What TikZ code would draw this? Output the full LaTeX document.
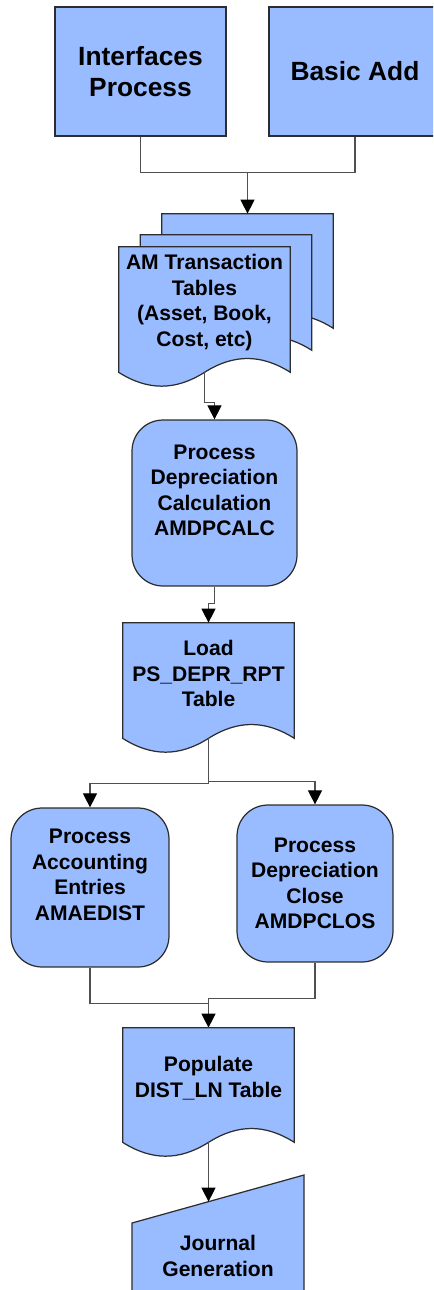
\documentclass[tikz,border=0pt]{standalone}
\usepackage{fontspec}
\setmainfont{Liberation Sans}
\definecolor{BoxBlue}{RGB}{153,187,255}
\definecolor{EdgeGray}{RGB}{45,45,45}
\definecolor{WireGray}{RGB}{80,80,80}
\usetikzlibrary{arrows.meta, calc, backgrounds}

% document sheet with a wavy bottom: #2 = top left corner, #3 = bottom right corner
\newcommand{\docpath}[3][]{%
  \path[docline,#1] let \p1=#2, \p2=#3, \p3=($0.17*(\p2)-0.17*(\p1)$), \p4=($(\p1)!0.5!(\p2)$) in
    (\p1) -- (\x2,\y1) -- (\p2)
    .. controls +(-\x3,10.5pt) and +(\x3,10.5pt) .. (\x4,\y2)
    .. controls +(-\x3,-10.5pt) and +(\x3,-10.5pt) .. (\x1,\y2) -- cycle;}

\begin{document}
\begin{tikzpicture}[
      x=0.02cm, y=-0.02cm,
      font=\bfseries\fontsize{12}{14.5}\selectfont,
      boxbase/.style={draw=EdgeGray, fill=BoxBlue, line width=0.7pt,
                      align=center, inner sep=0pt},
      topbox/.style={boxbase, minimum height=2.58cm,
                     font=\bfseries\fontsize{15}{17.6}\selectfont},
      roundbox/.style={boxbase, rounded corners=0.62cm},
      docbox/.style={align=center, inner sep=0pt, minimum width=3.42cm},
      docline/.style={draw=EdgeGray, fill=BoxBlue, line width=0.7pt},
      wire/.style={draw=WireGray, line width=0.6pt},
      arrow/.style={wire, -{Triangle[width=8pt, length=8pt, color=black]}}
    ]
      \useasboundingbox (0,0) rectangle (433,1290);
      \clip (0,0) rectangle (433,1290);

      \node[topbox, minimum width=3.42cm] (ifp) at (140.5,71.5) {Interfaces\\Process};
      \node[topbox, minimum width=3.44cm] (bsa) at (355,71.5)   {Basic Add};

      \node[docbox, minimum height=2.22cm] (tbl) at (204.5,302.5)
           {AM Transaction\\Tables\\(Asset, Book,\\Cost, etc)};
      \node[roundbox, minimum width=3.3cm, minimum height=3.32cm] (calc) at (214.5,503)
           {Process\\Depreciation\\Calculation\\AMDPCALC\\\mbox{}};
      \node[docbox, minimum height=2.02cm] (load) at (208.5,673.5)
           {Load\\PS\_DEPR\_RPT\\Table};
      \node[roundbox, minimum width=3.16cm, minimum height=3.18cm] (acct) at (90,887.5)
           {Process\\Accounting\\Entries\\AMAEDIST\\\mbox{}};
      \node[roundbox, minimum width=3.12cm, minimum height=3.14cm] (close) at (315,883.5)
           {Process\\Depreciation\\Close\\AMDPCLOS};
      \node[docbox, minimum height=2.0cm] (pop) at (208.5,1078)
           {Populate\\DIST\_LN Table};
      \node[align=center] (jrnl) at (218,1256) {Journal\\Generation};

      \begin{scope}[on background layer]
        \docpath{($(tbl.north west)+(43,-33)$)}{($(tbl.south east)+(43,-30)$)}
        \docpath{($(tbl.north west)+(21.5,-12)$)}{($(tbl.south east)+(21.5,-8)$)}
        \docpath{(tbl.north west)}{($(tbl.south east)+(0,14)$)}
        \docpath{(load.north west)}{($(load.south east)+(0,14)$)}
        \docpath{(pop.north west)}{($(pop.south east)+(0,14)$)}
        \path[docline] (132,1292) -- (132,1223) -- (304,1175) -- (304,1292) -- cycle;
      \end{scope}

      \coordinate (stacktop) at ($(tbl.north)+(43,-33)$);
      \coordinate (tblwave)  at ($(tbl.south)+(0,14)$);
      \coordinate (loadwave) at ($(load.south)+(0,14)$);
      \coordinate (popwave)  at ($(pop.south)+(0,14)$);
      \coordinate (jrnltop)  at ($(132,1223)!0.445!(304,1175)$);

      \draw[wire] (ifp.south) -- ++(0,36) coordinate (merge) -| (bsa.south);
      \draw[arrow] (merge -| stacktop) -- (stacktop);
      \draw[arrow] (tblwave) -- ++(0,30) -| (calc.north);
      \draw[arrow] (calc.south) -- ++(0,17) -| (load.north);
      \draw[arrow] (loadwave) -- ++(0,45) -| (acct.north);
      \draw[arrow] (loadwave) -- ++(0,43) -| (close.north);
      \draw[wire] (close.south) -- ++(0,36) -| (pop.north);
      \draw[arrow] (acct.south) -- ++(0,36) -| (pop.north);
      \draw[arrow] (popwave) -- (popwave |- jrnltop);
    \end{tikzpicture}
\end{document}
